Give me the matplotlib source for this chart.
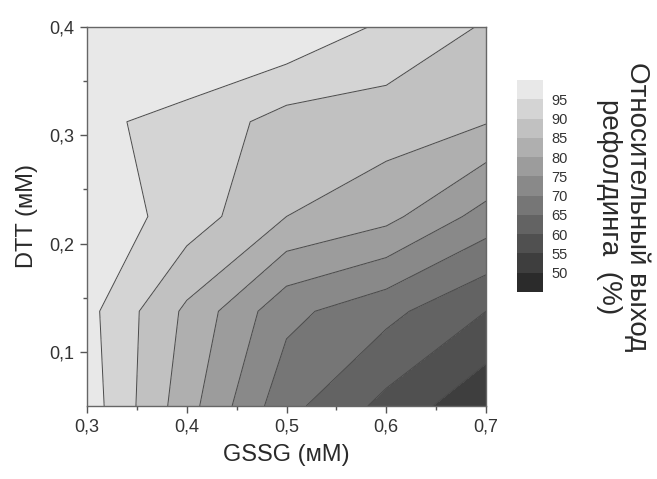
import numpy as np
import matplotlib
matplotlib.use("Agg")
import matplotlib.pyplot as plt
from matplotlib.colors import Normalize
from matplotlib.ticker import FixedLocator, FuncFormatter

plt.rcParams['font.family'] = ['Liberation Sans', 'DejaVu Sans']

# GSSG (mM) grid and DTT (mM) grid
gssg = [0.3, 0.4, 0.5, 0.6, 0.7]
dtt = [0.05, 0.1375, 0.225, 0.3125, 0.4]
# Relative refolding yield (%) rows for each DTT value
yield_row_005 = [97.7, 82.0, 66.6, 58.5, 51.0]
yield_row_01375 = [96.6, 84.0, 71.4, 66.5, 60.0]
yield_row_0225 = [98.6, 92.7, 85.0, 81.5, 73.0]
yield_row_03125 = [96.0, 93.5, 88.0, 87.5, 85.3]
yield_row_04 = [99.0, 100.0, 99.5, 94.0, 89.5]

levels = [45, 50, 55, 60, 65, 70, 75, 80, 85, 90, 95, 100.5]
cbar_ticks = [50, 55, 60, 65, 70, 75, 80, 85, 90, 95]

Z = np.array([yield_row_005, yield_row_01375, yield_row_0225,
              yield_row_03125, yield_row_04])
X, Y = np.meshgrid(gssg, dtt)

fig = plt.figure(figsize=(6.57, 4.79), dpi=100)
ax = fig.add_axes([87/657, 1-406/479, 399/657, 379/479])

norm = Normalize(vmin=36, vmax=104)
cf = ax.contourf(X, Y, Z, levels=levels, cmap='gray', norm=norm)
ax.contour(X, Y, Z, levels=levels[:-1], colors='#4a4a4a', linewidths=0.7)

ax.set_xlim(0.3, 0.7)
ax.set_ylim(0.05, 0.4)

comma = FuncFormatter(lambda v, p: f"{v:.1f}".replace('.', ','))
ax.xaxis.set_major_locator(FixedLocator([0.3, 0.4, 0.5, 0.6, 0.7]))
ax.xaxis.set_minor_locator(FixedLocator([0.35, 0.45, 0.55, 0.65]))
ax.yaxis.set_major_locator(FixedLocator([0.1, 0.2, 0.3, 0.4]))
ax.yaxis.set_minor_locator(FixedLocator([0.15, 0.25, 0.35]))
ax.xaxis.set_major_formatter(comma)
ax.yaxis.set_major_formatter(comma)
ax.tick_params(which='both', direction='out', color='#555555',
               labelcolor='#333333', labelsize=13, width=1)
ax.tick_params(which='major', length=5, pad=4)
ax.tick_params(which='minor', length=3)
for s in ax.spines.values():
    s.set_color('#666666')
    s.set_linewidth(1)

ax.set_xlabel('GSSG (мМ)', fontsize=17, color='#2a2a2a', labelpad=6)
ax.set_ylabel('DTT (мМ)', fontsize=17, color='#2a2a2a', labelpad=8)

cax = fig.add_axes([517/657, 1-292/479, 26/657, 212/479])
cb = fig.colorbar(cf, cax=cax, ticks=cbar_ticks)
cb.outline.set_visible(False)
cax.tick_params(length=0, labelsize=10.5, labelcolor='#333333', pad=6)

fig.text(623/657, 1-207/479, 'Относительный выход\nрефолдинга  (%)',
         rotation=-90, ha='center', va='center', multialignment='center',
         fontsize=20, color='#2a2a2a', linespacing=1.1)

fig.savefig('out.png', dpi=100)
